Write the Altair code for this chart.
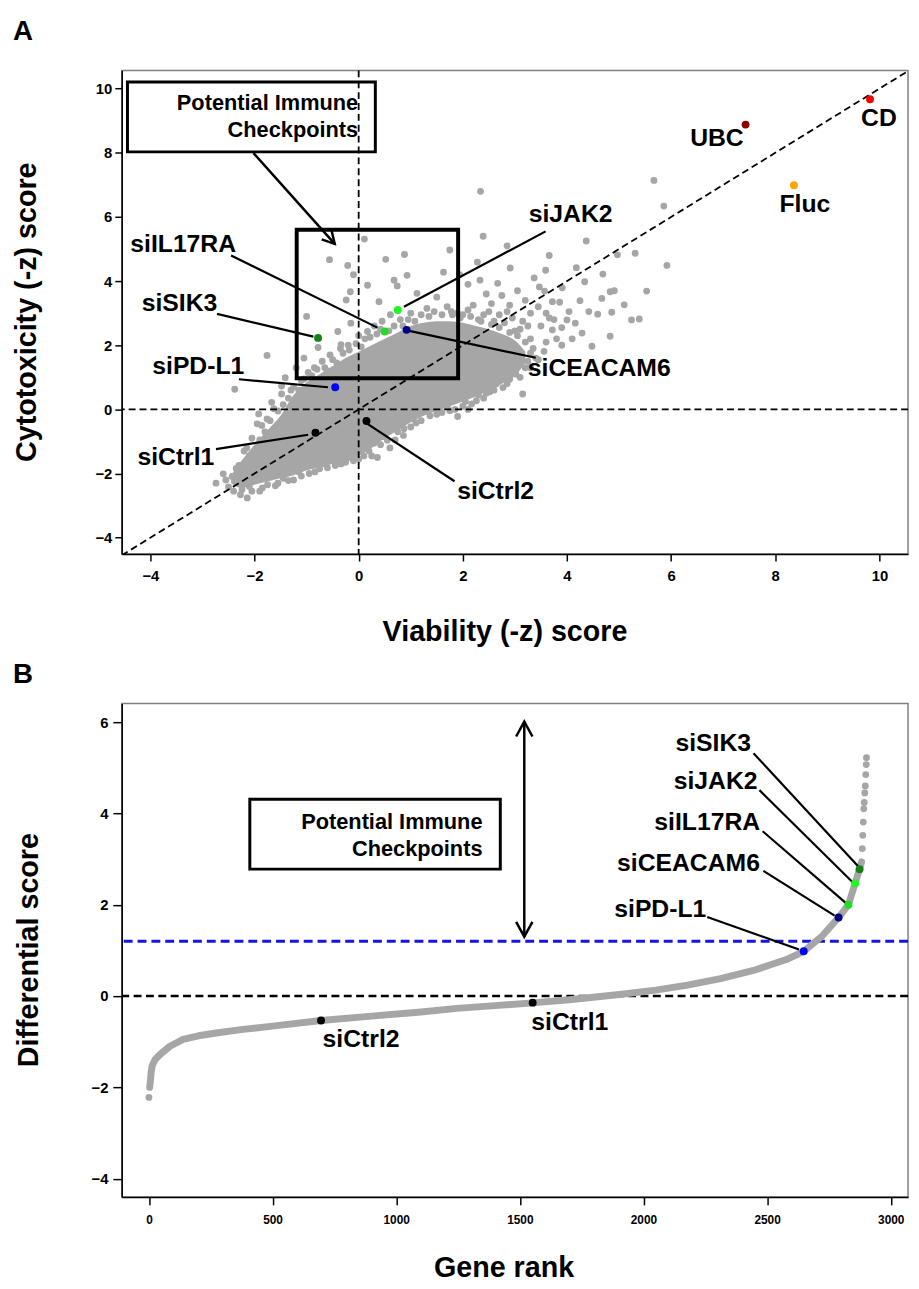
import altair as alt
import pandas as pd

FONT = "Liberation Sans"
GREY = "#A6A6A6"

# ---------------- Panel A data ----------------
# dense core of the cloud: lower / upper edge per viability value
core_x = [-2.45, -2.25, -2.0, -1.75, -1.5, -1.25, -1.0, -0.75, -0.5, -0.25, 0.0, 0.25,
          0.5, 0.75, 1.0, 1.25, 1.5, 1.75, 2.0, 2.25, 2.5, 2.75, 3.0, 3.2]
core_lo = [-2.3, -2.45, -2.35, -2.25, -2.15, -2.05, -1.9, -1.8, -1.7, -1.6, -1.45, -1.2,
           -0.9, -0.65, -0.4, -0.2, -0.05, 0.1, 0.25, 0.4, 0.6, 0.8, 1.05, 1.45]
core_hi = [-2.05, -1.6, -1.1, -0.65, -0.2, 0.45, 0.85, 1.1, 1.35, 1.6, 1.8, 2.0,
           2.2, 2.4, 2.6, 2.7, 2.75, 2.75, 2.7, 2.6, 2.5, 2.35, 2.15, 1.8]

cloud_lower = [
    (-2.74, -2.30), (-2.60, -2.01), (-2.43, -2.09), (-2.35, -1.84), (-2.27, -2.66),
    (-2.14, -2.76), (-2.24, -2.50), (-2.50, -2.42), (-2.05, -2.55), (-1.85, -2.45),
    (-1.60, -2.38), (-1.35, -2.22), (-1.10, -2.08), (-0.84, -1.95), (-0.60, -1.82),
    (-0.34, -1.70), (-0.10, -1.60), (0.10, -1.45), (0.36, -1.50), (0.30, -1.05),
    (0.55, -0.96), (0.60, -1.20), (0.86, -0.81), (0.87, -0.60), (1.10, -0.42),
    (1.37, -0.20), (1.60, -0.10), (1.75, -0.04), (1.90, -0.22), (2.00, 0.10),
    (2.17, 0.17), (2.26, 0.27), (2.40, 0.35), (2.52, 0.55), (2.64, 0.79),
    (2.77, 0.68), (2.90, 0.94), (3.02, 1.10), (3.15, 0.48), (3.30, 1.30),
    (3.45, 1.55), (3.56, 1.81), (-1.95, -2.20), (-2.20, -2.20),
    (-2.55, -2.20), (-2.40, -2.55), (-2.10, -2.40), (-1.90, -2.55), (-1.75, -2.35),
    (-1.55, -2.30), (-1.45, -2.15), (-1.25, -2.20), (-1.15, -1.95), (-0.95, -2.00),
    (-0.75, -1.85), (-0.65, -1.70), (-0.45, -1.75), (-0.25, -1.65), (-0.20, -1.50),
    (0.00, -1.55), (0.20, -1.30), (0.25, -1.45), (0.42, -1.10), (0.48, -0.85),
    (0.70, -0.95), (0.75, -0.70), (1.00, -0.55), (1.05, -0.30), (1.20, -0.35),
    (1.30, -0.05), (1.50, -0.15), (1.55, 0.05), (1.70, 0.10), (1.85, 0.00),
    (2.05, 0.25), (2.10, 0.00), (2.30, 0.45), (2.45, 0.50), (2.60, 0.60),
    (2.70, 0.90), (2.85, 0.80), (2.95, 1.20), (3.10, 1.00), (3.20, 1.30),
]
cloud_upper = [
    (-2.38, 0.63), (-2.20, -1.30), (-2.05, -0.90), (-1.95, -0.45), (-1.92, -0.14),
    (-1.86, -0.50), (-1.76, -0.30), (-1.67, 0.22), (-1.63, 0.02), (-1.48, 0.48),
    (-1.48, 0.73), (-1.41, 0.99), (-1.30, 0.60), (-1.20, 1.30), (-1.10, 0.90),
    (-1.05, 1.60), (-0.97, 1.15), (-0.85, 1.30), (-0.70, 1.50), (-0.60, 1.20),
    (-0.55, 1.70), (-0.78, 1.93), (-0.35, 1.90), (-0.20, 2.00), (-0.34, 2.02),
    (-0.40, 2.43), (-0.15, 2.69), (0.00, 2.30), (0.17, 2.43), (0.30, 2.60),
    (0.45, 2.75), (0.61, 2.95), (0.39, 3.36), (0.80, 2.80), (1.00, 3.00),
    (1.31, 3.15), (1.12, 3.62), (0.74, 3.85), (0.68, 4.03), (0.93, 4.18),
    (0.17, 3.87), (-0.16, 3.67), (-0.10, 4.20), (-0.21, 4.49), (-0.24, 3.41),
    (-1.00, 2.90), (-1.76, 1.68), (-0.56, 4.67), (0.11, 5.31), (0.52, 4.68),
    (0.88, 4.83), (1.75, 4.97), (1.63, 4.28), (1.94, 4.20), (1.50, 3.50),
    (1.70, 3.20), (1.90, 3.00), (2.10, 3.10),
    (-2.30, -1.75), (-2.15, -1.20), (-2.10, -1.45), (-1.90, -0.95), (-1.80, -0.70),
    (-1.70, -0.35), (-1.55, -0.05), (-1.45, 0.15), (-1.35, 0.35), (-1.25, 0.70),
    (-1.15, 0.60), (-1.05, 0.95), (-0.90, 1.05), (-0.80, 1.25), (-0.65, 1.30),
    (-0.50, 1.55), (-0.42, 1.45), (-0.30, 1.75), (-0.18, 1.85), (-0.05, 2.05),
    (0.05, 1.95), (0.12, 2.20), (0.22, 2.25), (0.35, 2.35), (0.42, 2.50),
    (0.58, 2.45), (0.68, 2.60), (0.85, 2.60), (0.95, 2.80), (1.08, 2.75),
    (1.20, 2.95), (1.35, 2.90), (1.45, 3.05), (1.60, 2.95), (1.78, 3.05),
    (1.95, 2.85), (2.15, 2.90), (2.35, 2.75), (2.55, 2.65), (2.70, 2.55),
    (2.90, 2.40), (3.05, 2.30), (3.20, 2.10), (3.30, 1.75), (3.25, 1.50),
]
cloud_right = [
    (2.10, 3.90), (2.33, 4.03), (2.28, 4.59), (2.39, 5.40), (2.34, 6.80), (2.85, 5.10),
    (2.67, 3.93), (2.45, 3.60), (2.55, 3.30), (2.75, 3.55), (2.91, 4.41), (2.90, 3.25),
    (3.05, 3.70), (3.20, 3.40), (3.30, 3.00), (3.37, 4.10), (3.47, 3.82), (3.57, 3.69),
    (3.45, 3.20), (3.60, 3.00), (3.66, 2.85), (3.72, 3.36), (3.72, 2.48), (3.59, 4.34),
    (3.66, 4.80), (3.75, 2.80), (3.86, 3.34), (3.90, 2.55), (3.91, 3.79), (4.00, 2.79),
    (4.04, 3.05), (4.16, 2.69), (4.18, 4.42), (4.25, 3.39), (4.29, 2.38), (4.34, 3.98),
    (4.37, 5.25), (4.42, 3.05), (4.48, 1.97), (4.59, 2.97), (4.67, 3.46), (4.69, 4.22),
    (4.83, 2.28), (4.83, 3.67), (4.86, 3.03), (4.91, 3.70), (4.97, 4.82), (5.10, 3.26),
    (5.24, 2.79), (5.31, 4.87), (5.39, 2.82), (5.53, 3.69), (5.67, 7.14), (5.86, 6.34),
    (5.92, 4.49), (3.15, 2.75), (2.95, 2.85), (2.70, 2.95), (2.40, 2.95), (3.40, 1.60),
    (3.80, 2.20), (3.90, 2.00), (4.10, 2.20), (3.50, 2.60), (3.30, 2.20), (3.60, 2.10),
    (3.10, 2.50), (2.80, 2.70), (3.35, 1.90), (2.00, 2.95), (2.20, 3.25), (2.60, 2.75),
    (2.30, 2.80), (1.80, 2.95), (2.85, 3.05), (3.00, 2.45), (3.25, 2.60), (2.50, 3.05),
]

hit_names = ["CD", "UBC", "Fluc", "siJAK2", "siIL17RA", "siCEACAM6", "siSIK3",
             "siPD-L1", "siCtrl1", "siCtrl2"]
hit_x = [9.82, 7.43, 8.36, 0.75, 0.50, 0.92, -0.78, -0.45, -0.83, 0.15]
hit_y = [9.67, 8.88, 6.99, 3.10, 2.43, 2.48, 2.23, 0.69, -0.73, -0.36]
hit_color = ["#FF0000", "#8B0000", "#FFA500", "#22F522", "#22DD22", "#00008B",
             "#168216", "#0000FF", "#000000", "#000000"]
label_x = [9.99, 6.88, 8.57, 4.07, -3.37, 4.62, -3.44, -3.08, -3.51, 2.63]
label_y = [9.09, 8.45, 6.40, 6.09, 5.16, 1.29, 3.32, 1.36, -1.50, -2.55]

lead_x1 = [3.59, -2.45, 0.97, -2.72, -2.30, -2.74, 0.17]
lead_y1 = [5.55, 4.80, 2.45, 2.98, 0.94, -1.24, -0.45]
lead_x2 = [0.87, 0.36, 3.40, -0.87, -0.59, -0.97, 1.84]
lead_y2 = [3.20, 2.55, 1.61, 2.27, 0.69, -0.79, -2.24]

zone_a = {"x1": [-1.19], "x2": [1.91], "y1": [0.97], "y2": [5.60]}
note_a = {"x1": [-4.44], "x2": [0.32], "y1": [8.03], "y2": [10.21]}
note_lines = ["Potential Immune", "Checkpoints"]
note_a_text_x = [-0.01, -0.01]
note_a_text_y = [9.56, 8.72]
arrow_a = {"x1": [-2.02], "y1": [7.99], "x2": [-0.46], "y2": [5.16]}

# ---------------- Panel B data ----------------
b_rank = [3, 6, 9, 13, 25, 45, 85, 138, 200, 272, 380, 500, 696, 900, 1100, 1245,
          1400, 1552, 1700, 1912, 2050, 2178, 2312, 2445, 2578, 2648, 2720, 2789,
          2829, 2856, 2874, 2882]
b_score = [-2.0, -1.85, -1.67, -1.53, -1.39, -1.28, -1.1, -0.95, -0.87, -0.81, -0.73,
           -0.66, -0.535, -0.44, -0.35, -0.27, -0.21, -0.15, -0.08, 0.04, 0.13, 0.24,
           0.38, 0.56, 0.80, 0.98, 1.30, 1.72, 2.0, 2.47, 2.78, 2.94]
tail_rank = [0, 2885, 2887, 2889, 2891, 2893, 2895, 2897, 2899, 2901, 2902]
tail_score = [-2.22, 3.23, 3.52, 3.81, 4.10, 4.24, 4.45, 4.60, 4.85, 5.07, 5.22]

bhit_names = ["siPD-L1", "siCEACAM6", "siIL17RA", "siJAK2", "siSIK3", "siCtrl2", "siCtrl1"]
bhit_rank = [2648, 2789, 2829, 2856, 2874, 696, 1552]
bhit_score = [0.98, 1.72, 2.0, 2.47, 2.78, -0.535, -0.145]
bhit_color = ["#0000FF", "#00008B", "#22DD22", "#22F522", "#168216", "#000000", "#000000"]
blabel_x = [2068, 2182, 2258, 2292, 2282, 858, 1702]
blabel_y = [1.90, 2.92, 3.81, 4.71, 5.54, -0.94, -0.56]
blead_x1 = [2258, 2485, 2482, 2469, 2445]
blead_y1 = [1.73, 2.74, 3.61, 4.51, 5.32]
blead_x2 = [2629, 2773, 2818, 2845, 2869]
blead_y2 = [1.02, 1.76, 2.04, 2.50, 2.84]

note_b = {"x1": [408], "x2": [1421], "y1": [2.78], "y2": [4.31]}
note_b_text_x = [1349, 1349]
note_b_text_y = [3.82, 3.22]
arrow_b = {"x": [1518], "y1": [1.30], "y2": [6.01]}
threshold_b = [1.2]

HEAD = "M -1 -0.55 L 0 0 L -1 0.55"

# ---------------- Panel A chart ----------------
xa = alt.Scale(domain=[-4.55, 10.55], nice=False, zero=False)
ya = alt.Scale(domain=[-4.51, 10.57], nice=False, zero=False)
ax_xa = alt.Axis(values=[-4, -2, 0, 2, 4, 6, 8, 10], format="d", title="Viability (-z) score",
                 tickSize=7, labelPadding=8, labelFontSize=15, titleFontSize=29,
                 titleX=387, titleY=87, titleBaseline="alphabetic", titleAlign="center")
ax_ya = alt.Axis(values=[-4, -2, 0, 2, 4, 6, 8, 10], format="d", title="Cytotoxicity (-z) score",
                 tickSize=7, labelPadding=3, labelFontSize=15, titleFontSize=29,
                 titleX=-87, titleY=244, titleAngle=270, titleBaseline="alphabetic",
                 titleAlign="center")


def XA(f):
    return alt.X(f, type="quantitative", scale=xa, axis=ax_xa)


def YA(f):
    return alt.Y(f, type="quantitative", scale=ya, axis=ax_ya)


core_df = pd.DataFrame({"x": core_x, "lo": core_lo, "hi": core_hi})
cloud = cloud_lower + cloud_upper + cloud_right
cloud_df = pd.DataFrame({"x": [p[0] for p in cloud], "y": [p[1] for p in cloud]})
hits_df = pd.DataFrame({"name": hit_names, "x": hit_x, "y": hit_y, "c": hit_color,
                        "lx": label_x, "ly": label_y})
lead_df = pd.DataFrame({"x1": lead_x1, "y1": lead_y1, "x2": lead_x2, "y2": lead_y2})
zero_df = pd.DataFrame({"v": [0]})
diag_df = pd.DataFrame({"x": [-4.55, 10.55], "y": [-4.55, 10.55]})

core_area = alt.Chart(core_df).mark_area(color=GREY, interpolate="monotone").encode(
    x=XA("x"), y=YA("lo"), y2=alt.Y2("hi"))
cloud_pts = alt.Chart(cloud_df).mark_circle(size=48, color=GREY, opacity=1).encode(
    x=XA("x"), y=YA("y"))
note_box = alt.Chart(pd.DataFrame(note_a)).mark_rect(fill="white", stroke="black",
                                                     strokeWidth=3).encode(
    x=XA("x1"), x2=alt.X2("x2"), y=YA("y1"), y2=alt.Y2("y2"))
note_txt = alt.Chart(pd.DataFrame({"t": note_lines, "x": note_a_text_x, "y": note_a_text_y})
                     ).mark_text(font=FONT, fontSize=22, fontWeight="bold", align="right",
                                 baseline="middle", color="black").encode(
    x=XA("x"), y=YA("y"), text="t:N")
vline = alt.Chart(zero_df).mark_rule(color="black", strokeWidth=1.8, strokeDash=[7, 4]).encode(
    x=XA("v"))
hline = alt.Chart(zero_df).mark_rule(color="black", strokeWidth=1.8, strokeDash=[7, 4]).encode(
    y=YA("v"))
diag = alt.Chart(diag_df).mark_line(color="black", strokeWidth=1.8, strokeDash=[7, 4],
                                    clip=True).encode(x=XA("x"), y=YA("y"))
zone = alt.Chart(pd.DataFrame(zone_a)).mark_rect(filled=False, stroke="black",
                                                 strokeWidth=4).encode(
    x=XA("x1"), x2=alt.X2("x2"), y=YA("y1"), y2=alt.Y2("y2"))
arr_line = alt.Chart(pd.DataFrame(arrow_a)).mark_rule(color="black", strokeWidth=2.5).encode(
    x=XA("x1"), y=YA("y1"), x2=alt.X2("x2"), y2=alt.Y2("y2"))
arr_head = alt.Chart(pd.DataFrame(arrow_a)).mark_point(
    shape=HEAD, filled=False, stroke="black", strokeWidth=2.5, size=600, angle=48,
    opacity=1).encode(x=XA("x2"), y=YA("y2"))
leaders = alt.Chart(lead_df).mark_rule(color="black", strokeWidth=2.2).encode(
    x=XA("x1"), y=YA("y1"), x2=alt.X2("x2"), y2=alt.Y2("y2"))
hit_pts = alt.Chart(hits_df).mark_circle(size=64, opacity=1).encode(
    x=XA("x"), y=YA("y"), color=alt.Color("c:N", scale=None))
hit_lbl = alt.Chart(hits_df).mark_text(font=FONT, fontSize=25, fontWeight="bold",
                                       align="center", baseline="middle", color="black").encode(
    x=XA("lx"), y=YA("ly"), text="name:N")
letter_a = alt.Chart(pd.DataFrame({"t": ["A"]})).mark_text(
    font=FONT, fontSize=28, fontWeight="bold", align="left", baseline="top",
    color="black").encode(x=alt.value(-110), y=alt.value(-53), text="t:N")

panel_a = alt.layer(core_area, cloud_pts, note_box, note_txt, vline, hline,
                    diag, zone, arr_line, arr_head, leaders, hit_pts, hit_lbl, letter_a
                    ).properties(width=795, height=489)

# ---------------- Panel B chart ----------------
xb = alt.Scale(domain=[-110, 3070], nice=False, zero=False)
yb = alt.Scale(domain=[-4.4, 6.41], nice=False, zero=False)
ax_xb = alt.Axis(values=[0, 500, 1000, 1500, 2000, 2500, 3000], format="d", title="Gene rank",
                 tickSize=8, labelPadding=10, labelFontSize=12, titleFontSize=29,
                 titleX=386, titleY=80, titleBaseline="alphabetic", titleAlign="center")
ax_yb = alt.Axis(values=[-4, -2, 0, 2, 4, 6], format="d", title="Differential score",
                 tickSize=9, labelPadding=5, labelFontSize=15, titleFontSize=29,
                 titleX=-85, titleY=249, titleAngle=270, titleBaseline="alphabetic",
                 titleAlign="center")


def XB(f):
    return alt.X(f, type="quantitative", scale=xb, axis=ax_xb)


def YB(f):
    return alt.Y(f, type="quantitative", scale=yb, axis=ax_yb)


curve_df = pd.DataFrame({"r": b_rank, "s": b_score})
tail_df = pd.DataFrame({"r": tail_rank, "s": tail_score})
bhits_df = pd.DataFrame({"name": bhit_names, "r": bhit_rank, "s": bhit_score, "c": bhit_color,
                         "lx": blabel_x, "ly": blabel_y})
blead_df = pd.DataFrame({"x1": blead_x1, "y1": blead_y1, "x2": blead_x2, "y2": blead_y2})

b_note_box = alt.Chart(pd.DataFrame(note_b)).mark_rect(fill="white", stroke="black",
                                                       strokeWidth=3).encode(
    x=XB("x1"), x2=alt.X2("x2"), y=YB("y1"), y2=alt.Y2("y2"))
b_note_txt = alt.Chart(pd.DataFrame({"t": note_lines, "x": note_b_text_x, "y": note_b_text_y})
                       ).mark_text(font=FONT, fontSize=22, fontWeight="bold", align="right",
                                   baseline="middle", color="black").encode(
    x=XB("x"), y=YB("y"), text="t:N")
b_zero = alt.Chart(zero_df).mark_rule(color="black", strokeWidth=2.6, strokeDash=[8, 4.5]).encode(
    y=YB("v"))
b_thr = alt.Chart(pd.DataFrame({"v": threshold_b})).mark_rule(
    color="#1414E6", strokeWidth=3.2, strokeDash=[9, 5]).encode(y=YB("v"))
b_curve = alt.Chart(curve_df).mark_line(color=GREY, strokeWidth=7, strokeCap="round",
                                        strokeJoin="round").encode(x=XB("r"), y=YB("s"))
b_tail = alt.Chart(tail_df).mark_circle(size=48, color=GREY, opacity=1).encode(
    x=XB("r"), y=YB("s"))
b_arr = alt.Chart(pd.DataFrame(arrow_b)).mark_rule(color="black", strokeWidth=2.5).encode(
    x=XB("x"), y=YB("y1"), y2=alt.Y2("y2"))
b_head_top = alt.Chart(pd.DataFrame(arrow_b)).mark_point(
    shape=HEAD, filled=False, stroke="black", strokeWidth=2.5, size=900, angle=270,
    opacity=1).encode(x=XB("x"), y=YB("y2"))
b_head_bot = alt.Chart(pd.DataFrame(arrow_b)).mark_point(
    shape=HEAD, filled=False, stroke="black", strokeWidth=2.5, size=900, angle=90,
    opacity=1).encode(x=XB("x"), y=YB("y1"))
b_leaders = alt.Chart(blead_df).mark_rule(color="black", strokeWidth=2.2).encode(
    x=XB("x1"), y=YB("y1"), x2=alt.X2("x2"), y2=alt.Y2("y2"))
b_pts = alt.Chart(bhits_df).mark_circle(size=64, opacity=1).encode(
    x=XB("r"), y=YB("s"), color=alt.Color("c:N", scale=None))
b_lbl = alt.Chart(bhits_df).mark_text(font=FONT, fontSize=25, fontWeight="bold",
                                      align="center", baseline="middle", color="black").encode(
    x=XB("lx"), y=YB("ly"), text="name:N")
letter_b = alt.Chart(pd.DataFrame({"t": ["B"]})).mark_text(
    font=FONT, fontSize=28, fontWeight="bold", align="left", baseline="top",
    color="black").encode(x=alt.value(-110), y=alt.value(-43), text="t:N")

panel_b = alt.layer(b_note_box, b_note_txt, b_zero, b_thr, b_curve, b_tail, b_arr, b_head_top,
                    b_head_bot, b_leaders, b_pts, b_lbl, letter_b
                    ).properties(width=795, height=499)

chart = alt.vconcat(panel_a, panel_b, spacing=151, bounds="flush").configure_view(
    stroke="#808080", strokeWidth=1.5
).configure_axis(
    domainColor="black", domainWidth=1.5, tickColor="black", tickWidth=1.5, grid=False,
    labelFont=FONT, labelFontWeight="bold", labelColor="black",
    titleFont=FONT, titleFontWeight="bold", titleColor="black"
).properties(padding={"left": 4, "top": 2, "right": 0, "bottom": 0})

chart.save("out.html", embed_options={"renderer": "svg", "actions": False})
